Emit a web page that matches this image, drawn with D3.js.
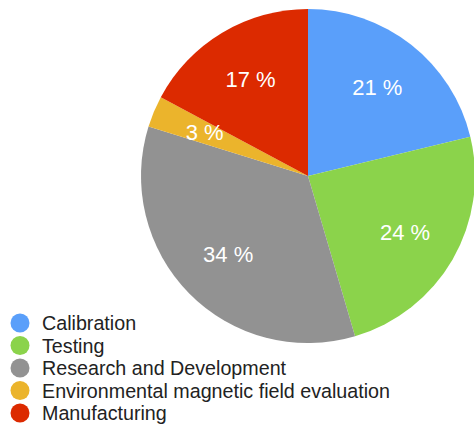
<!DOCTYPE html>
<html>
<head>
<meta charset="utf-8">
<script src="https://cdn.jsdelivr.net/npm/d3@7"></script>
<style>
  html, body { margin: 0; padding: 0; background: #ffffff; }
  svg { display: block; }
</style>
</head>
<body>
<svg id="chart" width="474" height="429"></svg>
<script>
const categories = ["Calibration", "Testing", "Research and Development", "Environmental magnetic field evaluation", "Manufacturing"];
const values = [21, 24, 34, 3, 17];
const colors = ["#5a9ffa", "#8bd34b", "#929292", "#ebb42c", "#dc2a00"];

const svg = d3.select("#chart");
const cx = 308, cy = 176, r = 167;

const pie = d3.pie().sort(null).value(d => d)(values);
const arc = d3.arc().innerRadius(0).outerRadius(r);
const labelArc = d3.arc().innerRadius(112).outerRadius(112);

const g = svg.append("g").attr("transform", `translate(${cx},${cy})`);
g.selectAll("path").data(pie).join("path")
  .attr("d", arc)
  .attr("fill", (d, i) => colors[i]);

g.selectAll("text").data(pie).join("text")
  .attr("transform", d => `translate(${labelArc.centroid(d)})`)
  .attr("text-anchor", "middle")
  .attr("dominant-baseline", "central")
  .attr("font-family", "Liberation Sans, Arial, sans-serif")
  .attr("font-size", 22)
  .attr("fill", "#ffffff")
  .text(d => d.data + " %");

const legend = svg.append("g");
const ly = d3.scaleLinear().domain([0, categories.length - 1]).range([323, 413]);
const item = legend.selectAll("g").data(categories).join("g")
  .attr("transform", (d, i) => `translate(0,${ly(i)})`);
item.append("circle").attr("cx", 20).attr("cy", 0).attr("r", 9.5)
  .attr("fill", (d, i) => colors[i]);
item.append("text").attr("x", 42).attr("y", 0)
  .attr("dominant-baseline", "central")
  .attr("font-family", "Liberation Sans, Arial, sans-serif")
  .attr("font-size", 19.7)
  .attr("fill", "#222222")
  .text(d => d);
</script>
</body>
</html>
